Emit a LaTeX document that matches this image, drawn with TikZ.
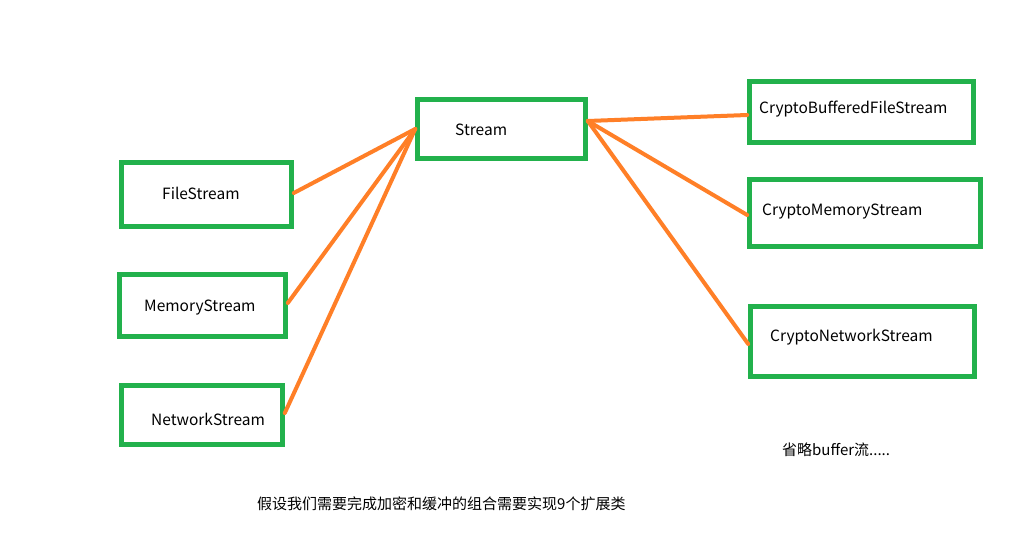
\documentclass[tikz,border=0pt]{standalone}
\usepackage{fontspec}
\setmainfont{Noto Sans CJK SC}
\definecolor{boxgreen}{HTML}{22B14C}
\definecolor{lineorange}{HTML}{FF7F27}
\tikzset{
  box/.style={draw=boxgreen, line width=4.6pt, minimum width=#1, inner sep=0pt},
  lbl/.style={anchor=west, inner sep=0pt, font=\fontsize{15.5pt}{18pt}\selectfont},
  cjklbl/.style={anchor=west, inner sep=0pt, font=\fontsize{15pt}{18pt}\selectfont},
  conn/.style={draw=lineorange, line width=4pt, line cap=round}
}
\begin{document}
\begin{tikzpicture}[x=1pt,y=-1pt]
\useasboundingbox[fill=white] (0,0) rectangle (1014,537);
% boxes (centerline geometry)
\node[box=168pt, minimum height=59pt] (st) at (501.5,129) {};
\node[box=170pt, minimum height=64pt] (fs) at (206.5,194.5) {};
\node[box=166pt, minimum height=62pt] (ms) at (202.5,305.5) {};
\node[box=161pt, minimum height=59pt] (ns) at (202,415) {};
\node[box=224pt, minimum height=61pt] (cb) at (861.5,112) {};
\node[box=231pt, minimum height=67pt] (cm) at (865,213) {};
\node[box=224pt, minimum height=70pt] (cn) at (862.5,341.5) {};
% labels
\node[lbl] (tst) at (455,129.5) {Stream};
\node[lbl] (tfs) at (162,193.5) {FileStream};
\node[lbl] (tms) at (144,307.5) {MemoryStream};
\node[lbl] (tns) at (151,419.5) {NetworkStream};
\node[lbl] (tcb) at (759,109.5) {CryptoBufferedFileStream};
\node[lbl] (tcm) at (762,211.5) {CryptoMemoryStream};
\node[lbl] (tcn) at (770,337.5) {CryptoNetworkStream};
\node[cjklbl] (note) at (782,450) {省略buffer流.....};
\node[cjklbl] (cap) at (257,504) {假设我们需要完成加密和缓冲的组合需要实现9个扩展类};
% connectors
\draw[conn] ([yshift=1.5pt]fs.east) -- (st.west);
\draw[conn] ([yshift=2.5pt]ms.east) -- (st.west);
\draw[conn] ([yshift=2pt]ns.east) -- (st.west);
\draw[conn] ([yshift=8pt]st.east) -- ([yshift=-3pt]cb.west);
\draw[conn] ([yshift=8pt]st.east) -- ([yshift=-2pt]cm.west);
\draw[conn] ([yshift=8pt]st.east) -- ([yshift=-2.5pt]cn.west);
\end{tikzpicture}
\end{document}
